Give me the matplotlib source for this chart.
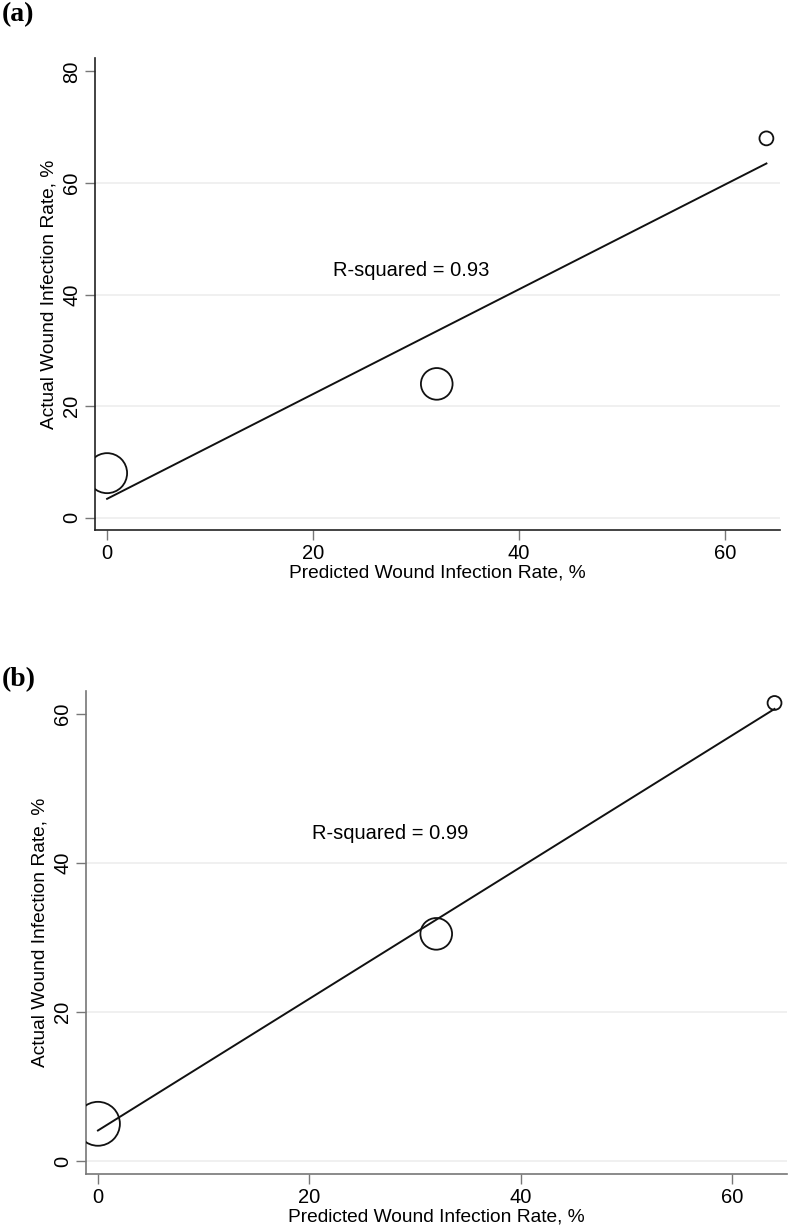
import matplotlib
matplotlib.use("Agg")
from matplotlib import pyplot as plt
import numpy as np

plt.rcParams['font.family'] = ['Liberation Sans', 'DejaVu Sans']

# valori
pred_rate = [0, 32, 64]

actual_a = [8, 24, 68]
sizes_a = [830, 520, 100]
fit_a = [3.4, 63.5]
r2_a = "R-squared = 0.93"

actual_b = [5, 30.5, 61.5]
sizes_b = [1000, 520, 100]
fit_b = [4.1, 60.7]
r2_b = "R-squared = 0.99"

fig = plt.figure(figsize=(7.88, 12.27), dpi=100)

pannelli = [
    dict(rect=[0.1206, 0.568, 0.869, 0.3847], y=actual_a, s=sizes_a, fit=fit_a, txt=r2_a,
         txt_xy=(29.5, 44.4), yticks=[0, 20, 40, 60, 80], ylim=(-2.2, 82.4), xlim=(-1.17, 65.3),
         spine='#222222', label='(a)', label_y=0.998),
    dict(rect=[0.109, 0.0432, 0.89, 0.3936], y=actual_b, s=sizes_b, fit=fit_b, txt=r2_b,
         txt_xy=(27.6, 44), yticks=[0, 20, 40, 60], ylim=(-1.74, 63.1), xlim=(-1.14, 65.2),
         spine='#777777', label='(b)', label_y=0.4565),
]

for p in pannelli:
    ax = fig.add_axes(p['rect'])
    # griglia (Stata non disegna la linea sull'ultimo tick in (a))
    for yv in p['yticks']:
        if yv < p['ylim'][1] - 5:
            ax.axhline(yv, color='#eeeeee', lw=1.2, zorder=0)
    ax.scatter(pred_rate, p['y'], s=p['s'], facecolors='none', edgecolors='#111111',
               linewidths=1.3, zorder=3)
    ax.plot([pred_rate[0], pred_rate[-1]], p['fit'], color='#111111', lw=1.4, zorder=2)
    ax.text(p['txt_xy'][0], p['txt_xy'][1], p['txt'], fontsize=14.5, ha='center', va='center')
    ax.set_xlim(*p['xlim'])
    ax.set_ylim(*p['ylim'])
    ax.set_xticks([0, 20, 40, 60])
    ax.set_yticks(p['yticks'])
    for lab in ax.get_yticklabels():
        lab.set_rotation(90)
        lab.set_va('center')
    ax.tick_params(length=7, width=1, color='#777777', labelsize=14.5, pad=3)
    for side in ['top', 'right']:
        ax.spines[side].set_visible(False)
    for side in ['left', 'bottom']:
        ax.spines[side].set_color(p['spine'])
        ax.spines[side].set_linewidth(1.2)
    ax.set_xlabel("Predicted Wound Infection Rate, %", fontsize=13.8, labelpad=1)
    ax.set_ylabel("Actual Wound Infection Rate, %", fontsize=13.8, labelpad=3)
    fig.text(0.002, p['label_y'], p['label'], fontsize=20, fontweight='bold',
             family='Liberation Serif', va='top', ha='left')

plt.savefig("out.png", dpi=100)
